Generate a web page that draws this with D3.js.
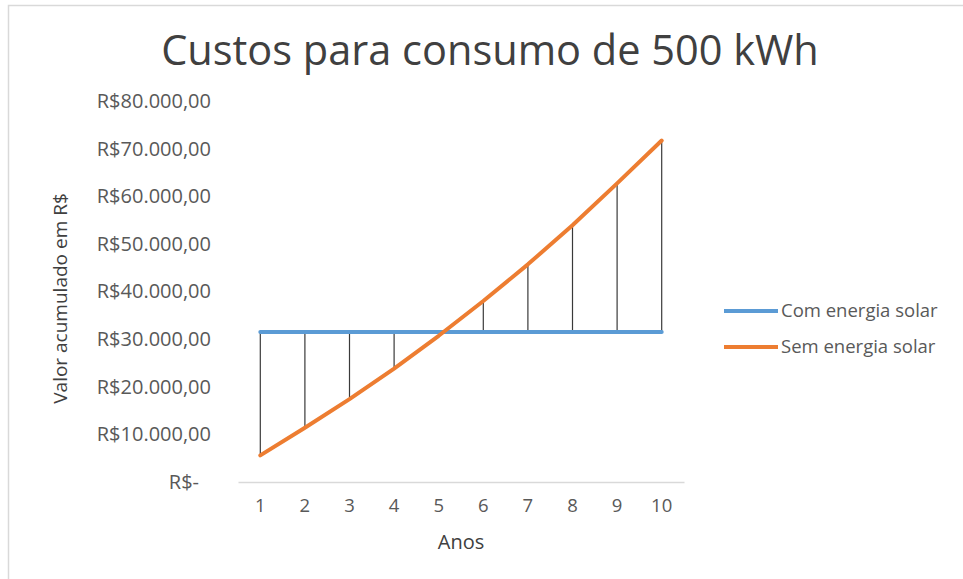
<!DOCTYPE html>
<html>
<head>
<meta charset="utf-8">
<script src="https://cdn.jsdelivr.net/npm/d3@7"></script>
<style>
  html, body { margin: 0; padding: 0; background: #fff; }
  svg { display: block; }
  text { font-family: "Open Sans", Lato, sans-serif; }
</style>
</head>
<body>
<svg id="chart" width="963" height="579"></svg>
<script>
// Accumulated cost over ten years, with and without solar energy
const anos = [1, 2, 3, 4, 5, 6, 7, 8, 9, 10];
const comSolar = [31500, 31500, 31500, 31500, 31500, 31500, 31500, 31500, 31500, 31500];
const semSolar = [5600, 11400, 17400, 23800, 30700, 38000, 45700, 53900, 62700, 71700];
const yTicks = [0, 10000, 20000, 30000, 40000, 50000, 60000, 70000, 80000];
const seriesNames = ["Com energia solar", "Sem energia solar"];
const seriesColors = ["#5B9BD5", "#ED7D31"];

const svg = d3.select("#chart");

// chart area frame
svg.append("rect")
  .attr("x", 8.5).attr("y", 5.5)
  .attr("width", 1000).attr("height", 600)
  .attr("fill", "#fff").attr("stroke", "#d9d9d9").attr("stroke-width", 1.5);

const plot = { left: 238, right: 684, top: 101, bottom: 482 };

const x = d3.scaleBand().domain(anos).range([plot.left, plot.right]);
const y = d3.scaleLinear().domain([0, 80000]).range([plot.bottom, plot.top]);
const cx = d => x(d) + x.bandwidth() / 2;

// accounting style currency: R$80.000,00 / R$-
const fmt = v => v === 0 ? "R$-" :
  "R$" + d3.format(",.2f")(v).replace(/,/g, "#").replace(".", ",").replace(/#/g, ".");

// title
svg.append("text")
  .attr("x", 490).attr("y", 65)
  .attr("text-anchor", "middle")
  .attr("font-size", 41.5)
  .attr("fill", "#404040")
  .text("Custos para consumo de 500 kWh");

// y axis (labels only)
const yAxis = d3.axisLeft(y).tickValues(yTicks).tickFormat(fmt).tickSize(0).tickPadding(27);
const gy = svg.append("g").attr("transform", `translate(${plot.left},0)`).call(yAxis);
gy.select(".domain").remove();
gy.selectAll("text")
  .attr("font-size", 20).attr("fill", "#595959")
  .attr("font-family", "'Open Sans', sans-serif")
  .attr("dx", d => d === 0 ? -12 : 0);

// x axis
const xAxis = d3.axisBottom(x).tickSize(0).tickPadding(17);
const gx = svg.append("g").attr("transform", `translate(0,${plot.bottom})`).call(xAxis);
gx.select(".domain").attr("stroke", "#d9d9d9").attr("stroke-width", 1.5);
gx.selectAll("text")
  .attr("font-size", 18.5).attr("fill", "#595959")
  .attr("font-family", "'Open Sans', sans-serif");

// axis titles
svg.append("text")
  .attr("transform", `translate(67,${(plot.top + plot.bottom) / 2 + 7}) rotate(-90)`)
  .attr("text-anchor", "middle")
  .attr("font-size", 19).attr("fill", "#404040")
  .text("Valor acumulado em R$");

svg.append("text")
  .attr("x", 461).attr("y", 549)
  .attr("text-anchor", "middle")
  .attr("font-size", 20).attr("fill", "#404040")
  .text("Anos");

// drop lines between the two series
svg.append("g").selectAll("line")
  .data(anos.map((a, i) => ({ a, c: comSolar[i], s: semSolar[i] })))
  .join("line")
  .attr("x1", d => cx(d.a)).attr("x2", d => cx(d.a))
  .attr("y1", d => y(d.c)).attr("y2", d => y(d.s))
  .attr("stroke", "#3a3a3a").attr("stroke-width", 1.2);

// series lines
const line = d3.line().x((d, i) => cx(anos[i])).y(d => y(d));
[comSolar, semSolar].forEach((vals, k) => {
  svg.append("path")
    .datum(vals)
    .attr("d", line)
    .attr("fill", "none")
    .attr("stroke", seriesColors[k])
    .attr("stroke-width", 4)
    .attr("stroke-linecap", "round")
    .attr("stroke-linejoin", "round");
});

// legend
const legend = svg.append("g");
seriesNames.forEach((name, k) => {
  const ly = 311 + k * 36;
  legend.append("line")
    .attr("x1", 724).attr("x2", 778).attr("y1", ly).attr("y2", ly)
    .attr("stroke", seriesColors[k]).attr("stroke-width", 4);
  legend.append("text")
    .attr("x", 781).attr("y", ly).attr("dy", "0.35em")
    .attr("font-size", 18.5).attr("fill", "#595959")
    .text(name);
});
</script>
</body>
</html>
